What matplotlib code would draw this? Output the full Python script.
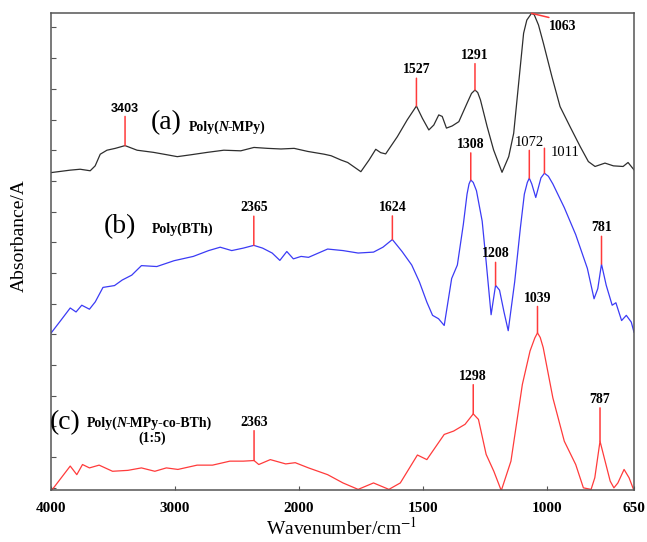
import matplotlib
matplotlib.use('Agg')
import matplotlib.pyplot as plt
import numpy as np

plt.rcParams['font.family'] = ['Liberation Serif', 'DejaVu Serif']
plt.rcParams['mathtext.fontset'] = 'stix'

# ---- spectra (wavenumber cm-1, absorbance in arbitrary offset units)
wn_a = [4000, 3846, 3765, 3684, 3644, 3603, 3549, 3482, 3403, 3306, 3174, 3063, 2982,
        2874, 2739, 2607, 2470, 2364, 2253, 2146, 2040, 1965, 1899, 1871, 1831, 1804,
        1751, 1718, 1691, 1671, 1651, 1604, 1564, 1527, 1503, 1477, 1457, 1437, 1423,
        1406, 1383, 1356, 1323, 1305, 1291, 1280, 1269, 1242, 1216, 1182, 1155, 1135,
        1115, 1095, 1082, 1063, 1052, 1035, 1015, 981, 948, 908, 867, 834, 807, 767,
        733, 694, 674, 650]
abs_a = [10.27, 10.35, 10.38, 10.33, 10.49, 10.87, 11.00, 11.06, 11.15, 11.00, 10.93,
         10.85, 10.79, 10.85, 10.93, 11.00, 10.98, 11.09, 11.06, 11.04, 11.06, 10.96,
         10.87, 10.82, 10.68, 10.60, 10.30, 10.68, 11.03, 10.92, 10.88, 11.44, 11.99,
         12.44, 12.04, 11.66, 11.82, 12.15, 12.10, 11.72, 11.79, 11.93, 12.53, 12.85,
         12.96, 12.88, 12.64, 11.77, 11.01, 10.28, 10.79, 11.55, 13.18, 14.81, 15.24,
         15.46, 15.41, 15.08, 14.48, 13.40, 12.42, 11.77, 11.12, 10.63, 10.47, 10.58,
         10.49, 10.47, 10.60, 10.36]

wn_b = [4000, 3922, 3845, 3798, 3752, 3690, 3643, 3581, 3488, 3426, 3349, 3271, 3147,
        3008, 2853, 2729, 2636, 2543, 2450, 2365, 2294, 2217, 2155, 2099, 2046, 1992,
        1962, 1885, 1823, 1762, 1700, 1662, 1624, 1585, 1546, 1515, 1485, 1462, 1438,
        1415, 1385, 1362, 1338, 1323, 1315, 1308, 1298, 1285, 1262, 1246, 1226, 1208,
        1192, 1174, 1157, 1131, 1108, 1092, 1080, 1072, 1062, 1046, 1025, 1011, 995,
        977, 931, 885, 838, 811, 796, 781, 762, 738, 723, 700, 681, 661, 650]
abs_b = [5.04, 5.45, 5.86, 5.73, 5.95, 5.82, 6.06, 6.53, 6.59, 6.77, 6.93, 7.24, 7.21,
         7.40, 7.54, 7.73, 7.84, 7.73, 7.81, 7.90, 7.81, 7.65, 7.41, 7.70, 7.46, 7.54,
         7.51, 7.78, 7.73, 7.65, 7.68, 7.84, 8.09, 7.70, 7.26, 6.71, 6.05, 5.62, 5.51,
         5.29, 6.82, 7.26, 8.58, 9.57, 9.90, 10.03, 9.95, 9.68, 8.69, 7.37, 5.64, 6.60,
         6.44, 5.73, 5.12, 6.71, 8.47, 9.57, 9.95, 10.09, 9.90, 9.46, 10.10, 10.25, 10.15,
         9.90, 9.13, 8.25, 7.15, 6.16, 6.49, 7.29, 6.60, 5.95, 6.03, 5.45, 5.62, 5.40,
         5.07]

wn_c = [4000, 3845, 3792, 3746, 3690, 3612, 3504, 3380, 3271, 3163, 3070, 2977, 2822,
        2698, 2558, 2450, 2363, 2325, 2232, 2108, 2031, 1962, 1885, 1823, 1762, 1700,
        1638, 1592, 1523, 1485, 1415, 1377, 1331, 1298, 1277, 1246, 1215, 1185, 1146,
        1100, 1069, 1050, 1039, 1028, 1016, 977, 931, 885, 854, 823, 808, 787, 770, 746,
        731, 715, 690, 670, 650]
abs_c = [-0.11, 0.71, 0.43, 0.76, 0.65, 0.74, 0.54, 0.57, 0.65, 0.54, 0.65, 0.60, 0.74,
         0.74, 0.87, 0.87, 0.89, 0.76, 0.92, 0.78, 0.82, 0.65, 0.43, 0.16, -0.05, 0.16,
         -0.05, 0.16, 1.07, 0.92, 1.74, 1.85, 2.07, 2.41, 2.23, 1.09, 0.54, -0.09, 0.87,
         3.37, 4.46, 4.88, 5.05, 4.90, 4.57, 2.93, 1.52, 0.76, 0.00, -0.05, 0.33, 1.52,
         0.98, 0.22, 0.00, 0.16, 0.60, 0.33, -0.09]

# marked bands: (spectrum, wavenumber)
peaks = [('a', 3403), ('a', 1527), ('a', 1291),
         ('b', 2365), ('b', 1624), ('b', 1308), ('b', 1072), ('b', 1208), ('b', 781),
         ('c', 2363), ('c', 1298), ('c', 1039), ('c', 787)]
# marker length in points for each band above
stick = [21, 20, 19, 21, 17, 19.5, 20, 16.5, 20, 21.5, 21, 19, 24]

series = {'a': (wn_a, abs_a), 'b': (wn_b, abs_b), 'c': (wn_c, abs_c)}
colors = {'a': '#2e2e2e', 'b': '#3b3bf5', 'c': '#ff3b3b'}
mark = '#ff3a3a'


def fwd(w):
    w = np.asarray(w, float)
    return np.where(w > 2000, 2000 + (w - 2000) / 2, w)


def inv(u):
    u = np.asarray(u, float)
    return np.where(u > 2000, 2000 + (u - 2000) * 2, u)


W, H = 647, 542


def P(x, y):
    return x / W, 1 - y / H


def peak_val(key, w):
    xs, ys = series[key]
    return np.interp(w, xs[::-1], ys[::-1])


fig = plt.figure(figsize=(W / 100, H / 100), dpi=100)
ax = fig.add_axes([51 / W, 1 - 490 / H, (634 - 51) / W, (490 - 13) / H])
ax.set_xscale('function', functions=(fwd, inv))

for k in ['a', 'b', 'c']:
    ax.plot(series[k][0], series[k][1], color=colors[k], lw=0.9)

ax.set_xlim(4000, 650)
ax.set_ylim(-0.07, 15.47)
ax.set_xticks([4000, 3000, 2000, 1500, 1000, 650])
ax.set_xticklabels(['4000', '3000', '2000', '1500', '1000', '650'], fontweight='bold')
ax.set_yticks(np.arange(0, 16))
ax.set_yticklabels([])
ax.tick_params(axis='x', direction='in', length=3, pad=9, labelsize=11, color='#555555')
ax.tick_params(axis='y', direction='in', length=3.5, color='#555555')
ax.minorticks_off()
for s in ax.spines.values():
    s.set_color('#555555')
    s.set_linewidth(1.1)

# stick markers + labels
for (k, w), L in zip(peaks, stick):
    y = peak_val(k, w)
    ax.annotate('', xy=(w, y), xytext=(0, L), textcoords='offset points',
                arrowprops=dict(arrowstyle='-', color=mark, lw=1.1, shrinkA=0, shrinkB=0))
    kw = dict(fontsize=10, fontweight='bold')
    if w == 1072:
        kw = dict(fontsize=10.5)
    if w == 3403:
        kw = dict(fontsize=9, fontweight='bold', family='Liberation Sans')
    ax.annotate(str(w), xy=(w, y), xytext=(0, L + 3.5), textcoords='offset points',
                ha='center', va='baseline', **kw)

# 1011 shoulder of (b): label to the right
y = peak_val('b', 1011)
ax.annotate('', xy=(1011, y), xytext=(0, 18), textcoords='offset points',
            arrowprops=dict(arrowstyle='-', color=mark, lw=1.1, shrinkA=0, shrinkB=0))
ax.annotate('1011', xy=(1011, y), xytext=(4.5, 15), textcoords='offset points',
            ha='left', va='center', fontsize=10.5)

# 1063 top of (a): slanted tick
y = peak_val('a', 1063)
ax.annotate('', xy=(1063, y), xytext=(12.5, -3), textcoords='offset points',
            arrowprops=dict(arrowstyle='-', color=mark, lw=1.1, shrinkA=0, shrinkB=0))
ax.annotate('1063', xy=(1063, y), xytext=(12.5, -9.5), textcoords='offset points',
            ha='left', va='center', fontsize=10, fontweight='bold')


def rich_text(x, y, parts, size=10):
    t = fig.text(*P(x, y), parts[0][0], fontsize=size, fontweight='bold',
                 fontstyle=parts[0][1], ha='left', va='baseline')
    for s, st in parts[1:]:
        dx = -1.0 if st == 'italic' else -0.3
        t = ax.annotate(s, xycoords=t, xy=(1, 0), xytext=(dx, 0), textcoords='offset points',
                        va='bottom', fontsize=size, fontweight='bold', fontstyle=st,
                        annotation_clip=False)


fig.text(*P(151, 123), '(a)', fontsize=20, ha='left', va='center')
rich_text(189, 131, [('Poly(', 'normal'), ('N', 'italic'), ('-MPy)', 'normal')])

fig.text(*P(104, 227), '(b)', fontsize=20, ha='left', va='center')
rich_text(152, 233, [('Poly(BTh)', 'normal')])

fig.text(*P(50, 423), '(c)', fontsize=20, ha='left', va='center')
rich_text(87, 427, [('Poly(', 'normal'), ('N', 'italic'), ('-MPy-co-BTh)', 'normal')])
fig.text(*P(152, 438), '(1:5)', fontsize=10, fontweight='bold', ha='center', va='center')

fig.text(*P(19, 236), 'Absorbance/A', rotation=90, ha='center', va='center', fontsize=14)
fig.text(*P(342, 528), 'Wavenumber/cm$^{-1}$', ha='center', va='center', fontsize=14)

fig.savefig('out.png', dpi=100)
